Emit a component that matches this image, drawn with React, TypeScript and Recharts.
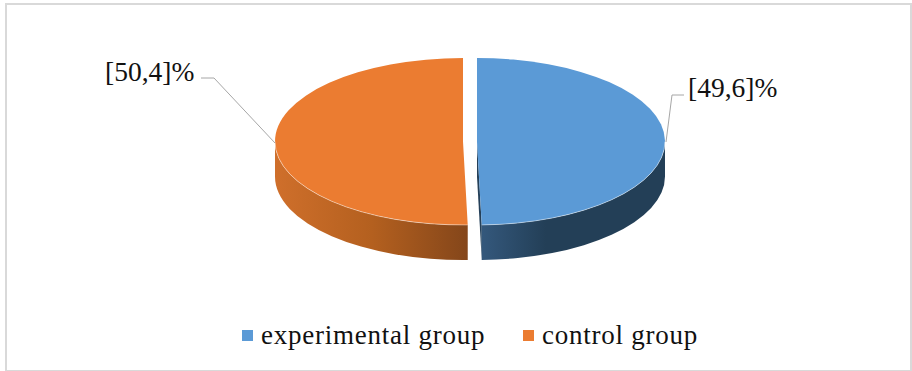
import { Legend, Pie, PieChart } from "recharts";

const groups = ["experimental group", "control group"];
const shares = [49.6, 50.4];
const colors = ["#5B9AD6", "#EB7C31"];

const data = groups.map((name, i) => ({ name, value: shares[i], fill: colors[i] }));

const SQUASH = 0.444;
const DEPTH = 35;
const EXPLODE = 7;
const FONT = "'Liberation Serif', serif";

const rad = (deg: number) => (deg * Math.PI) / 180;

// flattened rim point, recharts angles (0 = right, counter-clockwise)
const rim = (cx: number, cy: number, r: number, deg: number) => ({
  x: cx + r * Math.cos(rad(deg)),
  y: cy - r * SQUASH * Math.sin(rad(deg)),
});

const Slice3D = (props: any) => {
  const { outerRadius: r, startAngle, endAngle, midAngle, fill, index } = props;
  const cx = props.cx + EXPLODE * Math.cos(rad(midAngle));
  const cy = props.cy;
  const ry = r * SQUASH;
  const a = rim(cx, cy, r, startAngle);
  const b = rim(cx, cy, r, endAngle);
  const big = Math.abs(endAngle - startAngle) > 180 ? 1 : 0;
  const top = `M${cx},${cy} L${a.x},${a.y} A${r},${ry} 0 ${big} 1 ${b.x},${b.y} Z`;

  // front wall only covers the lower half of the ellipse
  const wallFrom = rim(cx, cy, r, Math.min(startAngle, 0));
  const wallTo = rim(cx, cy, r, Math.max(endAngle, -180));
  const lowerRim = `M${wallFrom.x},${wallFrom.y} A${r},${ry} 0 0 1 ${wallTo.x},${wallTo.y}`;
  const wall = `${lowerRim} L${wallTo.x},${wallTo.y + DEPTH} A${r},${ry} 0 0 0 ${wallFrom.x},${wallFrom.y + DEPTH} Z`;
  // cut face of the blue slice shows as a thin sliver next to the gap
  const cut = `M${cx},${cy} L${b.x},${b.y} L${b.x},${b.y + DEPTH} L${cx},${cy + DEPTH} Z`;

  return (
    <g>
      {index === 0 && <path d={cut} fill="#254059" />}
      <path d={wall} fill={index === 0 ? "url(#wallBlue)" : "url(#wallOrange)"} />
      <path d={top} fill={fill} />
      <path d={lowerRim} fill="none" stroke="#fff" strokeOpacity={0.45} strokeWidth={1} />
    </g>
  );
};

const SliceLabel = (props: any) => {
  const { index, value } = props;
  const text = `[${String(value).replace(".", ",")}]%`;
  if (index === 0) {
    return (
      <g>
        <polyline points="666,142 672,95 684,95" fill="none" stroke="#a6a6a6" strokeWidth={1} />
        <text x={688} y={97} fontFamily={FONT} fontSize={27.5} fill="#111">{text}</text>
      </g>
    );
  }
  return (
    <g>
      <polyline points="275,143 214,78 201,78" fill="none" stroke="#a6a6a6" strokeWidth={1} />
      <text x={105} y={81} fontFamily={FONT} fontSize={27.5} fill="#111">{text}</text>
    </g>
  );
};

const LegendRow = ({ payload }: any) => (
  <div style={{ position: "relative", height: 30 }}>
    {(payload || []).map((item: any, i: number) => (
      <div key={item.value} style={{ position: "absolute", left: i === 0 ? 0 : 281, top: 0, whiteSpace: "nowrap" }}>
        <span style={{ position: "absolute", left: 0, top: 10, width: 11, height: 11, background: item.color }} />
        <span style={{ position: "absolute", left: 19, top: 0, fontFamily: FONT, fontSize: 27, letterSpacing: 0.75, lineHeight: "30px", color: "#111" }}>
          {item.value}
        </span>
      </div>
    ))}
  </div>
);

const App = () => {
  return (
    <div style={{ position: "fixed", left: 0, top: 0, width: 912, height: 371, background: "#fff" }}>
      <div style={{ position: "absolute", left: 5, top: 3, width: 903, height: 365, border: "2px solid #d9d9d9" }} />
      <PieChart
        width={912}
        height={371}
        margin={{ top: 0, right: 0, bottom: 0, left: 0 }}
        style={{ position: "absolute", left: 0, top: 0 }}
      >
        <defs>
          <linearGradient id="wallBlue" x1="0" x2="1" y1="0" y2="0">
            <stop offset="0" stopColor="#34587c" />
            <stop offset="0.35" stopColor="#233f57" />
            <stop offset="1" stopColor="#233f57" />
          </linearGradient>
          <linearGradient id="wallOrange" x1="0" x2="1" y1="0" y2="0">
            <stop offset="0" stopColor="#cf6f2b" />
            <stop offset="0.5" stopColor="#b4601f" />
            <stop offset="1" stopColor="#84461a" />
          </linearGradient>
        </defs>
        <Pie
          data={data}
          dataKey="value"
          nameKey="name"
          cx={470}
          cy={141.5}
          outerRadius={188}
          startAngle={90}
          endAngle={-270}
          stroke="none"
          shape={Slice3D}
          label={SliceLabel}
          labelLine={false}
          isAnimationActive={false}
        />
        <Legend
          content={LegendRow}
          itemSorter={null}
          wrapperStyle={{ position: "absolute", left: 242, top: 320, width: 470, bottom: "auto" }}
        />
      </PieChart>
    </div>
  );
};

export default App;
